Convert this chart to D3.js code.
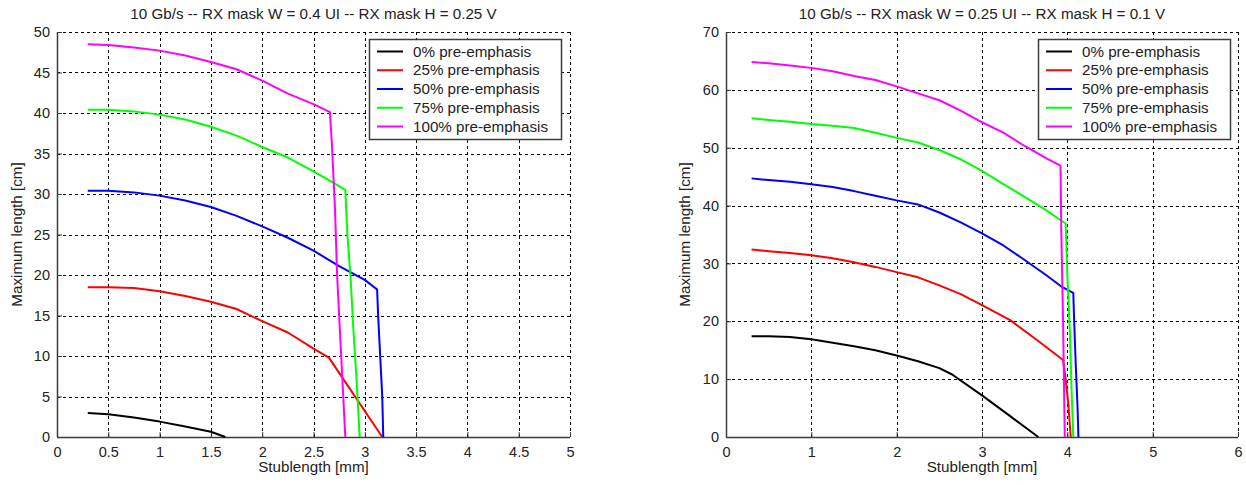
<!DOCTYPE html>
<html>
<head>
<meta charset="utf-8">
<script src="https://cdn.jsdelivr.net/npm/d3@7"></script>
<style>
  html, body { margin: 0; padding: 0; background: #fff; }
  svg { display: block; font-family: "Liberation Sans", Arial, sans-serif; }
</style>
</head>
<body>
<svg id="fig" width="1246" height="485"></svg>
<script>
// Series labels and colours shared by both panels
const seriesNames = ["0% pre-emphasis", "25% pre-emphasis", "50% pre-emphasis", "75% pre-emphasis", "100% pre-emphasis"];
const seriesColors = ["#000000", "#ff0000", "#0000ff", "#00ff00", "#ff00ff"];

// Panel 1: RX mask W = 0.4 UI, H = 0.25 V  -- [stub length mm, max length cm]
const leftTitle = "10 Gb/s -- RX mask W = 0.4 UI -- RX mask H = 0.25 V";
const leftXTicks = [0, 0.5, 1, 1.5, 2, 2.5, 3, 3.5, 4, 4.5, 5];
const leftYTicks = [0, 5, 10, 15, 20, 25, 30, 35, 40, 45, 50];
const left0 = [[0.3,2.95],[0.5,2.8],[0.75,2.4],[1.0,1.9],[1.25,1.3],[1.5,0.65],[1.64,0]];
const left25 = [[0.3,18.5],[0.5,18.5],[0.75,18.4],[1.0,18.0],[1.25,17.4],[1.5,16.7],[1.75,15.8],[2.0,14.3],[2.25,12.9],[2.5,10.9],[2.65,9.8],[3.17,0]];
const left50 = [[0.3,30.4],[0.5,30.4],[0.75,30.2],[1.0,29.8],[1.25,29.2],[1.5,28.4],[1.75,27.3],[2.0,26.0],[2.25,24.6],[2.5,23.0],[2.75,21.1],[3.0,19.4],[3.12,18.2],[3.13,15],[3.15,10],[3.17,5],[3.18,0]];
const left75 = [[0.3,40.4],[0.5,40.4],[0.75,40.2],[1.0,39.8],[1.25,39.2],[1.5,38.3],[1.75,37.2],[2.0,35.8],[2.25,34.5],[2.5,32.8],[2.65,31.7],[2.81,30.5],[2.83,25],[2.86,20],[2.89,13],[2.92,7],[2.95,0]];
const left100 = [[0.3,48.5],[0.5,48.4],[0.75,48.1],[1.0,47.7],[1.25,47.1],[1.5,46.3],[1.75,45.4],[2.0,44.0],[2.25,42.4],[2.5,41.1],[2.66,40.1],[2.68,36],[2.71,28],[2.73,20],[2.77,10],[2.79,5],[2.81,0]];

// Panel 2: RX mask W = 0.25 UI, H = 0.1 V
const rightTitle = "10 Gb/s -- RX mask W = 0.25 UI -- RX mask H = 0.1 V";
const rightXTicks = [0, 1, 2, 3, 4, 5, 6];
const rightYTicks = [0, 10, 20, 30, 40, 50, 60, 70];
const right0 = [[0.3,17.4],[0.5,17.4],[0.75,17.3],[1.0,16.9],[1.25,16.3],[1.5,15.7],[1.75,15.0],[2.0,14.1],[2.25,13.1],[2.5,11.9],[2.65,10.8],[3.0,7.2],[3.33,3.6],[3.66,0]];
const right25 = [[0.3,32.4],[0.5,32.1],[0.75,31.8],[1.0,31.4],[1.25,30.9],[1.5,30.2],[1.75,29.4],[2.0,28.5],[2.25,27.6],[2.5,26.2],[2.75,24.7],[3.0,22.8],[3.33,20.2],[3.64,16.8],[3.95,13.3],[3.98,10],[4.01,6],[4.04,0]];
const right50 = [[0.3,44.7],[0.5,44.4],[0.75,44.1],[1.0,43.7],[1.25,43.2],[1.5,42.5],[1.75,41.7],[2.0,40.9],[2.25,40.2],[2.5,38.8],[2.75,37.1],[3.0,35.2],[3.25,33.1],[3.5,30.6],[3.75,28.0],[3.93,26.0],[4.07,24.9],[4.08,20],[4.1,12],[4.12,5],[4.13,0]];
const right75 = [[0.3,55.1],[0.5,54.8],[0.75,54.5],[1.0,54.1],[1.25,53.8],[1.5,53.4],[1.75,52.6],[2.0,51.7],[2.25,50.9],[2.5,49.6],[2.75,48.0],[3.0,46.0],[3.25,43.7],[3.5,41.5],[3.75,39.2],[3.91,37.6],[3.98,36.9],[4.0,28],[4.03,18],[4.05,8],[4.07,0]];
const right100 = [[0.3,64.8],[0.5,64.6],[0.75,64.2],[1.0,63.8],[1.25,63.2],[1.5,62.4],[1.75,61.7],[2.0,60.6],[2.25,59.4],[2.5,58.2],[2.75,56.4],[3.0,54.4],[3.25,52.6],[3.5,50.3],[3.75,48.2],[3.92,46.9],[3.93,35],[3.95,20],[3.97,0]];

const svg = d3.select("#fig");
svg.append("rect").attr("width", 1246).attr("height", 485).attr("fill", "#fff");

function drawPanel(opts) {
  const { left, right, top, bottom, xMax, yMax, xTicks, yTicks, title, series, legend, yLabelX } = opts;
  const x = d3.scaleLinear().domain([0, xMax]).range([left, right]);
  const y = d3.scaleLinear().domain([0, yMax]).range([bottom, top]);
  const g = svg.append("g");

  // dotted grid
  const grid = g.append("g").attr("stroke", "#000").attr("stroke-width", 1)
    .attr("stroke-dasharray", "3,3").attr("shape-rendering", "crispEdges");
  grid.selectAll("line.v").data(xTicks.filter(d => d > 0)).join("line")
    .attr("x1", d => Math.round(x(d)) + 0.5).attr("x2", d => Math.round(x(d)) + 0.5)
    .attr("y1", bottom).attr("y2", top);
  grid.selectAll("line.h").data(yTicks.filter(d => d > 0)).join("line")
    .attr("y1", d => Math.round(y(d)) + 0.5).attr("y2", d => Math.round(y(d)) + 0.5)
    .attr("x1", left).attr("x2", right);

  // axes (left and bottom), ticks pointing inward
  const xAxis = d3.axisBottom(x).tickValues(xTicks).tickSize(-5).tickPadding(10).tickFormat(d => String(d));
  const yAxis = d3.axisLeft(y).tickValues(yTicks).tickSize(-5).tickPadding(7).tickFormat(d => String(d));
  const gx = g.append("g").attr("transform", `translate(0,${bottom})`).call(xAxis);
  const gy = g.append("g").attr("transform", `translate(${left},0)`).call(yAxis);
  [gx, gy].forEach(a => {
    a.select(".domain").attr("stroke", "#3c3c3c").attr("stroke-width", 1.5);
    a.selectAll(".tick line").attr("stroke", "#3c3c3c").attr("stroke-width", 1);
    a.selectAll(".tick text").attr("fill", "#222").attr("font-size", 14.5)
      .attr("font-family", "'Liberation Sans', Arial, sans-serif");
  });
  gx.select(".domain").attr("d", `M${left},0.5H${right}`);
  gy.select(".domain").attr("d", `M0.5,${bottom}V${top}`);

  // series lines
  const line = d3.line().x(d => x(d[0])).y(d => y(d[1]));
  series.forEach((s, i) => {
    g.append("path").datum(s).attr("d", line).attr("fill", "none")
      .attr("stroke", seriesColors[i]).attr("stroke-width", 2).attr("stroke-linejoin", "round");
  });

  // title and axis labels
  g.append("text").attr("x", (left + right) / 2).attr("y", 19).attr("text-anchor", "middle")
    .attr("font-size", 15.2).attr("fill", "#222").text(title);
  g.append("text").attr("x", (left + right) / 2).attr("y", 472).attr("text-anchor", "middle")
    .attr("font-size", 15.2).attr("fill", "#222").text("Stublength [mm]");
  g.append("text").attr("transform", `translate(${yLabelX},${(top + bottom) / 2}) rotate(-90)`)
    .attr("text-anchor", "middle").attr("font-size", 15.2).attr("fill", "#222").text("Maximum length [cm]");

  // legend box
  const lg = g.append("g");
  lg.append("rect").attr("x", legend.x + 0.5).attr("y", legend.y + 0.5).attr("width", legend.w).attr("height", legend.h)
    .attr("fill", "#fff").attr("stroke", "#3c3c3c").attr("stroke-width", 1.5);
  seriesNames.forEach((name, i) => {
    const ry = legend.y + 12.5 + i * 18.75;
    lg.append("line").attr("x1", legend.x + 8).attr("x2", legend.x + 34).attr("y1", ry).attr("y2", ry)
      .attr("stroke", seriesColors[i]).attr("stroke-width", 2);
    lg.append("text").attr("x", legend.x + 44).attr("y", ry + 5).attr("font-size", 15.2)
      .attr("fill", "#222").text(name);
  });
}

drawPanel({
  left: 57, right: 570, top: 32, bottom: 437, xMax: 5, yMax: 50,
  xTicks: leftXTicks, yTicks: leftYTicks, title: leftTitle,
  series: [left0, left25, left50, left75, left100],
  legend: { x: 369, y: 39, w: 192, h: 100 }, yLabelX: 22
});

drawPanel({
  left: 726, right: 1238, top: 32, bottom: 437, xMax: 6, yMax: 70,
  xTicks: rightXTicks, yTicks: rightYTicks, title: rightTitle,
  series: [right0, right25, right50, right75, right100],
  legend: { x: 1038, y: 39, w: 192, h: 100 }, yLabelX: 690
});
</script>
</body>
</html>
